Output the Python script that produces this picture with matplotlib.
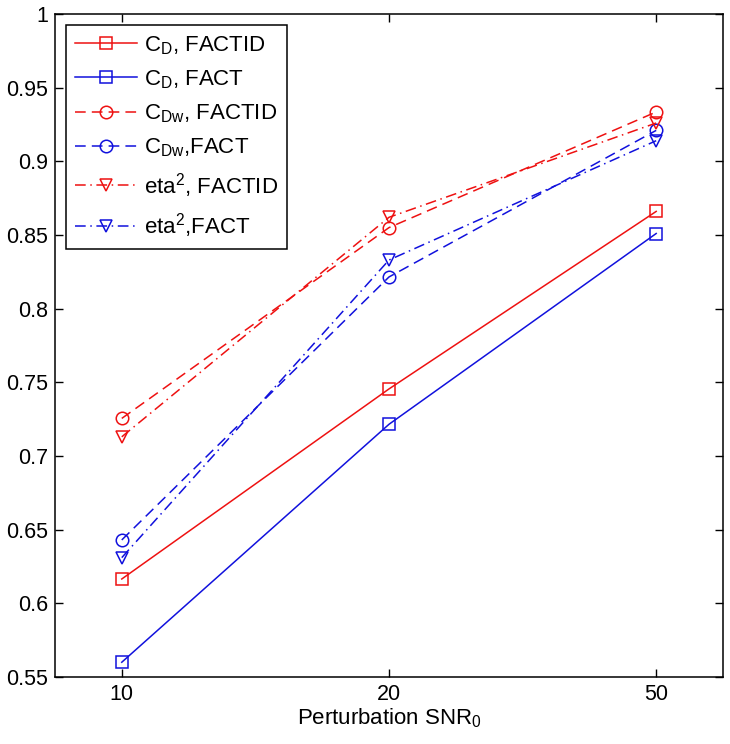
import numpy as np
import matplotlib
matplotlib.use("Agg")
import matplotlib.pyplot as plt

plt.rcParams["font.family"] = ["Liberation Sans", "DejaVu Sans"]
plt.rcParams["mathtext.fontset"] = "custom"
plt.rcParams["mathtext.rm"] = "Liberation Sans"

snr_labels = ["10", "20", "50"]

cd_factid = [0.6165, 0.7455, 0.866]
cd_fact = [0.560, 0.7215, 0.851]
cdw_factid = [0.7255, 0.855, 0.9335]
cdw_fact = [0.643, 0.8215, 0.921]
eta_factid = [0.713, 0.862, 0.926]
eta_fact = [0.631, 0.833, 0.914]

RED = "#ee1111"
BLUE = "#1111dd"
DASH = (0, (7, 4))
DASHDOT = (0, (7, 3, 1, 3))


def main():
    fig = plt.figure(figsize=(7.30, 7.44), dpi=100)
    ax = fig.add_axes([0.0753, 0.0901, 0.9151, 0.8911])

    x = np.arange(1, len(snr_labels) + 1)
    kw = dict(lw=1.1, ms=9, mfc="none", mew=1.1)

    ax.plot(x, cd_factid, color=RED, ls="-", marker="s",
            label=r"C$_\mathregular{D}$, FACTID", **kw)
    ax.plot(x, cd_fact, color=BLUE, ls="-", marker="s",
            label=r"C$_\mathregular{D}$, FACT", **kw)
    ax.plot(x, cdw_factid, color=RED, ls=DASH, marker="o",
            label=r"C$_\mathregular{Dw}$, FACTID", **kw)
    ax.plot(x, cdw_fact, color=BLUE, ls=DASH, marker="o",
            label=r"C$_\mathregular{Dw}$,FACT", **kw)
    ax.plot(x, eta_factid, color=RED, ls=DASHDOT, marker="v",
            label=r"eta$^\mathregular{2}$, FACTID", **kw)
    ax.plot(x, eta_fact, color=BLUE, ls=DASHDOT, marker="v",
            label=r"eta$^\mathregular{2}$,FACT", **kw)

    ax.set_xlim(0.75, 3.25)
    ax.set_ylim(0.55, 1.0)
    ax.set_xticks(x)
    ax.set_xticklabels(snr_labels)
    ax.set_yticks(np.arange(0.55, 1.001, 0.05))
    ax.set_yticklabels(["0.55", "0.6", "0.65", "0.7", "0.75", "0.8",
                        "0.85", "0.9", "0.95", "1"])
    ax.tick_params(direction="in", top=True, right=True, labelsize=15.5,
                   length=6, width=1, pad=5)
    for sp in ax.spines.values():
        sp.set_linewidth(1.1)

    ax.set_xlabel(r"Perturbation SNR$_\mathregular{0}$", fontsize=16,
                  labelpad=1)

    leg = ax.legend(loc="upper left", fontsize=16, numpoints=1,
                    handlelength=2.8, handletextpad=0.3,
                    labelspacing=0.52, borderpad=0.4, fancybox=False,
                    framealpha=1, edgecolor="black", borderaxespad=0.5)
    leg.get_frame().set_linewidth(1.1)

    fig.savefig("out.png", dpi=100)


if __name__ == "__main__":
    main()
